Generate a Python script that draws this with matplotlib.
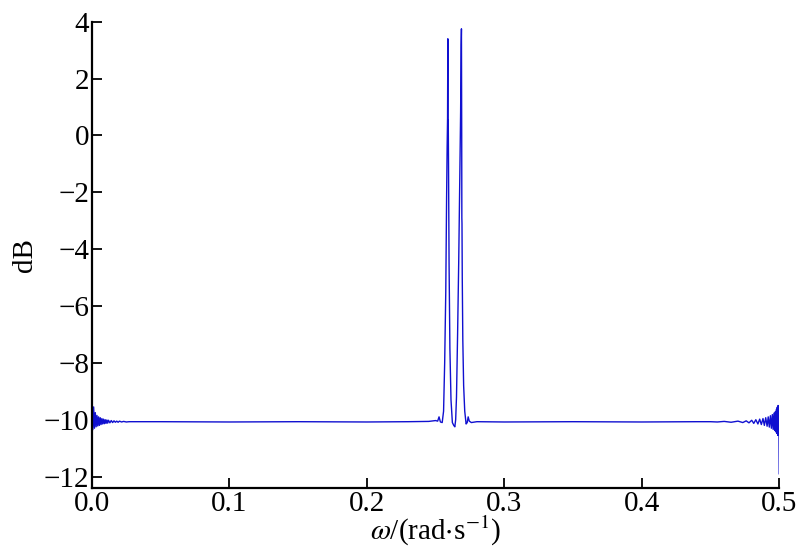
import matplotlib
matplotlib.use("Agg")
import matplotlib.pyplot as plt

plt.rcParams['font.family'] = ['Liberation Serif', 'DejaVu Serif']
plt.rcParams['mathtext.fontset'] = 'stix'

# Left edge ripple region (omega, dB)
left_w = [0.0, 0.0006, 0.0012, 0.0018, 0.0024, 0.0030, 0.0036, 0.0042, 0.0048, 0.0054,
          0.0060, 0.0066, 0.0072, 0.0078, 0.0084, 0.0090, 0.0096, 0.0102, 0.0108, 0.0114,
          0.0120, 0.0130, 0.0140, 0.0150, 0.0160, 0.0170, 0.0180, 0.0190, 0.0200, 0.0215,
          0.0230, 0.0250, 0.0270]
left_db = [-9.25, -10.35, -9.55, -10.3, -9.75, -10.25, -9.85, -10.22, -9.9, -10.2,
           -9.93, -10.17, -9.96, -10.15, -9.98, -10.14, -10.0, -10.13, -10.01, -10.12,
           -10.02, -10.11, -10.03, -10.1, -10.04, -10.09, -10.05, -10.09, -10.05, -10.08,
           -10.06, -10.08, -10.07]

# Middle region with the two peaks
mid_w = [0.05, 0.10, 0.15, 0.20, 0.23, 0.245, 0.250, 0.2515, 0.2525, 0.2535, 0.2548,
         0.2558, 0.2566, 0.2574, 0.2580, 0.2584, 0.2587, 0.2589, 0.2590, 0.2591, 0.2592,
         0.2594, 0.2598, 0.2604, 0.2612, 0.2622, 0.2632, 0.2640, 0.2646, 0.2652,
         0.2660, 0.2668, 0.2676, 0.2682, 0.2686, 0.2688, 0.2690, 0.2691, 0.2692,
         0.2694, 0.2698, 0.2704, 0.2712, 0.2722, 0.2730, 0.2737, 0.2745, 0.2760,
         0.2800, 0.30, 0.35, 0.40, 0.44]
mid_db = [-10.07, -10.08, -10.07, -10.08, -10.07, -10.06, -10.03, -10.05, -9.9, -10.08, -10.1,
          -9.7, -8.0, -5.5, -2.2, -0.4, 0.6, 3.4, 0.5, -0.3, 0.55,
          -1.0, -4.5, -7.5, -9.3, -10.1, -10.2, -10.25, -10.0, -9.2,
          -7.0, -4.5, -1.5, 0.8, 3.2, 3.75, 0.0, -2.9, -3.1,
          -5.0, -7.2, -8.8, -9.7, -10.15, -10.1, -9.9, -10.05, -10.1,
          -10.07, -10.08, -10.07, -10.08, -10.07]

# Right edge ripple region
right_w = [0.450, 0.455, 0.460, 0.465, 0.470, 0.4735, 0.4760, 0.4780, 0.4800, 0.4815,
           0.4830, 0.4845, 0.4858, 0.4870, 0.4882, 0.4892, 0.4902, 0.4912, 0.4920,
           0.4928, 0.4936, 0.4943, 0.4950, 0.4956, 0.4962, 0.4967, 0.4972, 0.4976,
           0.4980, 0.4983, 0.4986, 0.4989, 0.4992, 0.4995, 0.4998, 0.5000]
right_db = [-10.07, -10.08, -10.06, -10.09, -10.05, -10.1, -10.04, -10.11, -10.02, -10.13,
            -10.0, -10.15, -9.98, -10.17, -9.96, -10.2, -9.93, -10.23, -9.9,
            -10.26, -9.86, -10.3, -9.82, -10.34, -9.77, -10.38, -9.72, -10.43,
            -9.64, -10.48, -9.56, -10.55, -9.5, -10.4, -10.2, -11.9]

omega = left_w + mid_w + right_w
db = left_db + mid_db + right_db

x_ticks = [0.0, 0.1, 0.2, 0.3, 0.4, 0.5]
y_ticks = [-12, -10, -8, -6, -4, -2, 0, 2, 4]

fig = plt.figure(figsize=(8.0, 5.57), dpi=100)
ax = fig.add_axes([0.115, 0.124, 0.859, 0.837])
ax.plot(omega, db, color='#1010d0', linewidth=1.0)

ax.set_xlim(0.0, 0.5)
ax.set_ylim(-12.4, 4.0)
ax.set_xticks(x_ticks)
ax.set_xticklabels([f"{t:.1f}" for t in x_ticks])
ax.set_yticks(y_ticks)
ax.set_yticklabels([str(t).replace('-', '\u2212') for t in y_ticks])

for s in ['top', 'right']:
    ax.spines[s].set_visible(False)
for s in ['left', 'bottom']:
    ax.spines[s].set_linewidth(1.6)
ax.tick_params(direction='in', length=7, width=1.3, labelsize=21, pad=2)

ax.set_xlabel(r'$\omega$/(rad$\cdot$s$^{-1}$)', fontsize=21, labelpad=-2)
ax.set_ylabel('dB', fontsize=21, labelpad=4)

fig.savefig('out.png', dpi=100)
